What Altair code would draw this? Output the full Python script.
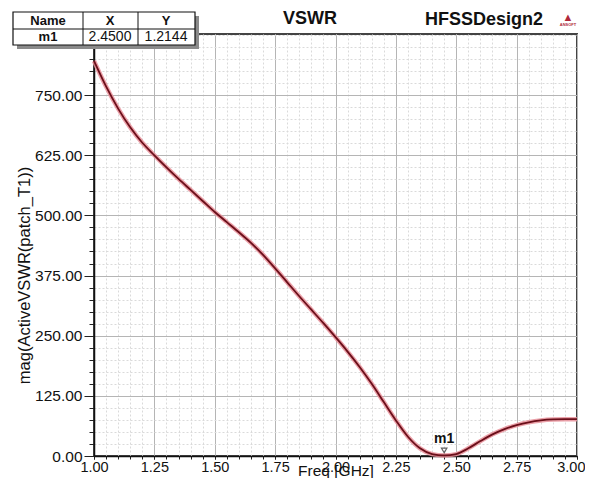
import altair as alt
import pandas as pd

FONT = "Liberation Sans"

# ---- data ----
freq = [1.00, 1.05, 1.10, 1.15, 1.20, 1.25, 1.30, 1.35, 1.40, 1.45,
        1.50, 1.55, 1.60, 1.65, 1.70, 1.75, 1.80, 1.85, 1.90, 1.95,
        2.00, 2.05, 2.10, 2.15, 2.20, 2.25, 2.30, 2.35, 2.40, 2.45,
        2.50, 2.55, 2.60, 2.65, 2.70, 2.75, 2.80, 2.85, 2.90, 2.95, 3.00]
vswr = [821, 768, 722, 683, 651, 625, 600, 576, 553, 530,
        507, 486, 465, 443, 418, 390, 361, 332, 304, 276,
        247, 217, 185, 150, 112, 74, 40, 16, 4, 1.2144,
        4, 16, 31, 45, 56, 64, 70, 74, 76, 76.5, 76.5]

marker_name = ["m1"]
marker_x = [2.45]
marker_y = [1.2144]

table_header = ["Name", "X", "Y"]
table_row = ["m1", "2.4500", "1.2144"]

x_major = [1.00, 1.25, 1.50, 1.75, 2.00, 2.25, 2.50, 2.75]
x_last = [3.00]
y_major = [0, 125, 250, 375, 500, 625, 750]
x_minor = [round(1 + 0.05 * i, 2) for i in range(41)]
y_minor = [25 * i for i in range(36)]

df = pd.DataFrame({"freq": freq, "vswr": vswr})
mk = pd.DataFrame({"name": marker_name, "freq": marker_x, "vswr": marker_y})
one = pd.DataFrame({"a": [0]})

xscale = alt.Scale(domain=[1, 3], nice=False, zero=False)
yscale = alt.Scale(domain=[0, 877], nice=False)

# minor grid / ticks layer (own scales so its axes are not merged)
minor = alt.Chart(df).mark_line(opacity=0).encode(
    x=alt.X("freq:Q", scale=xscale, axis=alt.Axis(
        orient="bottom", values=x_minor, grid=True, gridColor="#dadada",
        gridDash=[2, 2], labels=False, tickSize=3, tickColor="#222",
        domain=False, title=None)),
    y=alt.Y("vswr:Q", scale=yscale, axis=alt.Axis(
        orient="left", values=y_minor, grid=True, gridColor="#dadada",
        gridDash=[2, 2], labels=False, tickSize=5, tickColor="#222",
        domain=False, title=None)),
)

# last x label (kept inside the page edge)
last = alt.Chart(df).mark_line(opacity=0).encode(
    x=alt.X("freq:Q", scale=xscale, axis=alt.Axis(
        orient="bottom", values=x_last, format=".2f", grid=True,
        gridColor="#b5b5b5", tickSize=3, tickColor="#222", domain=False,
        labelFont=FONT, labelFontSize=14.5, labelColor="#111", labelPadding=1,
        labelAlign="right", labelOffset=8, labelFlush=False, title=None)),
    y=alt.Y("vswr:Q", scale=yscale, axis=None),
)

halo = alt.Chart(df).mark_line(
    color="#e8909a", strokeWidth=4.5, opacity=0.85, interpolate="monotone"
).encode(
    x=alt.X("freq:Q", scale=xscale, axis=alt.Axis(
        orient="bottom", values=x_major, format=".2f", grid=True,
        gridColor="#b5b5b5", tickSize=3, tickColor="#222",
        domainColor="#111", domainWidth=1.5,
        labelFont=FONT, labelFontSize=14.5, labelColor="#111", labelPadding=1,
        labelFlush=False, labelOverlap=False,
        title="Freq [GHz]", titleFont=FONT, titleFontSize=15.5,
        titleFontWeight="normal", titleColor="#111",
        titleY=14, titleBaseline="middle")),
    y=alt.Y("vswr:Q", scale=yscale, axis=alt.Axis(
        orient="left", values=y_major, format=".2f", grid=True,
        gridColor="#b5b5b5", tickSize=10, tickColor="#222",
        domainColor="#111", domainWidth=1.5,
        labelFont=FONT, labelFontSize=15.5, labelColor="#111", labelPadding=2,
        labelOverlap=False,
        title="mag(ActiveVSWR(patch_T1))", titleFont=FONT, titleFontSize=16.5,
        titleFontWeight="normal", titleColor="#111",
        titleX=-70, titleY=241, titleAngle=-90,
        titleBaseline="middle", titleAlign="center")),
)

line = alt.Chart(df).mark_line(
    color="#6b0f1a", strokeWidth=1.8, interpolate="monotone"
).encode(x="freq:Q", y="vswr:Q")

marker = alt.Chart(mk).mark_point(
    shape="triangle-down", size=30, filled=False, color="#222",
    strokeWidth=1.2, yOffset=-5
).encode(x="freq:Q", y="vswr:Q")

marker_lbl = alt.Chart(mk).mark_text(
    font=FONT, fontSize=14, fontWeight="bold", color="#111", dy=-16
).encode(x="freq:Q", y="vswr:Q", text="name:N")

main = alt.layer(halo, line, marker, marker_lbl)


def txt(s, x, y, size=12, weight="normal", color="#111", align="center"):
    return alt.Chart(one).mark_text(
        text=s, font=FONT, fontSize=size, fontWeight=weight, color=color,
        align=align, baseline="middle"
    ).encode(x=alt.value(x), y=alt.value(y))


# marker table (top-left)
shadow = alt.Chart(one).mark_rect(fill="#8a8a8a").encode(
    x=alt.value(-77), x2=alt.value(105), y=alt.value(-18), y2=alt.value(15))
box = alt.Chart(one).mark_rect(fill="white", stroke="#111", strokeWidth=1.2).encode(
    x=alt.value(-81), x2=alt.value(101), y=alt.value(-22), y2=alt.value(11))
hrule = alt.Chart(one).mark_rule(color="#111", strokeWidth=1).encode(
    x=alt.value(-81), x2=alt.value(101), y=alt.value(-5))
vr1 = alt.Chart(one).mark_rule(color="#111", strokeWidth=1).encode(
    x=alt.value(-11), y=alt.value(-22), y2=alt.value(11))
vr2 = alt.Chart(one).mark_rule(color="#111", strokeWidth=1).encode(
    x=alt.value(44), y=alt.value(-22), y2=alt.value(11))

cells = [
    txt(table_header[0], -46, -13, 13, "bold"),
    txt(table_header[1], 16, -13, 13, "bold"),
    txt(table_header[2], 72, -13, 13, "bold"),
    txt(table_row[0], -46, 3, 13, "bold"),
    txt(table_row[1], 16, 3, 14),
    txt(table_row[2], 72, 3, 14),
]

title = txt("VSWR", 216, -15, 18, "bold")
design = txt("HFSSDesign2", 390, -14, 18, "bold")
logo = txt("▲", 474, -16, 11, "normal", "#b0283a")
logo2 = txt("ANSOFT", 474, -9, 4, "bold", "#b0283a")

chart = alt.layer(
    minor, last, main,
    shadow, box, hrule, vr1, vr2, *cells,
    title, design, logo, logo2,
).resolve_scale(
    x="independent", y="independent"
).properties(
    width=483, height=422,
    padding={"left": 86, "top": 26, "right": 8, "bottom": 22},
    autosize=alt.AutoSizeParams(type="none"),
    background="white",
).configure_view(stroke="#444", strokeWidth=2)

chart.save("out.html", embed_options={"renderer": "svg", "actions": False})
